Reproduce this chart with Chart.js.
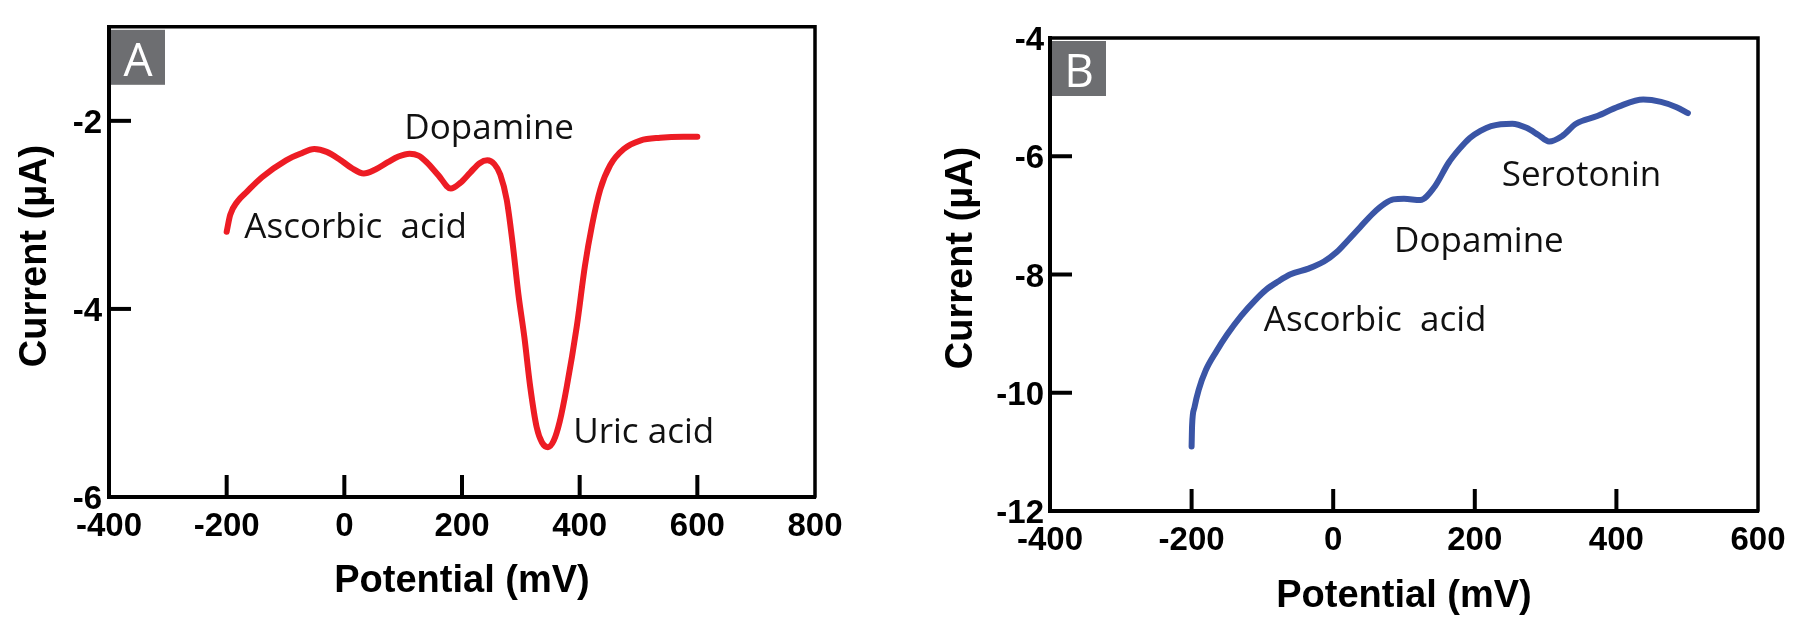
<!DOCTYPE html>
<html><head><meta charset="utf-8">
<script src="https://cdn.jsdelivr.net/npm/chart.js@4.4.1/dist/chart.umd.min.js"></script>
<style>
html,body{margin:0;padding:0;background:#fff;overflow:hidden;}
#wrap{position:relative;width:1806px;height:636px;background:#fff;}
canvas{position:absolute;top:0;}
#cA{left:0;} #cB{left:903px;}
</style></head><body>
<div id="wrap"><canvas id="cA" width="903" height="636"></canvas><canvas id="cB" width="903" height="636"></canvas></div>
<script>
// ---------- Panel A data ----------
const potentialA = [-200,-194,-182,-165,-140,-99,-75,-51,-30,-8,12,33,52,74,92,111,126,140,160,181,197,214,230,243,255,265,276,286,296,306,316,327,336,346,356,366,378,395,409,421,435,452,475,503,537,577,600];
const currentA   = [-3.18,-3.00,-2.86,-2.75,-2.60,-2.42,-2.35,-2.30,-2.33,-2.41,-2.50,-2.56,-2.52,-2.44,-2.38,-2.35,-2.37,-2.44,-2.58,-2.72,-2.66,-2.55,-2.45,-2.42,-2.46,-2.57,-2.84,-3.30,-3.85,-4.30,-4.83,-5.26,-5.42,-5.47,-5.40,-5.20,-4.83,-4.19,-3.54,-3.11,-2.73,-2.47,-2.30,-2.21,-2.18,-2.17,-2.17];
const xTicksA = [-400,-200,0,200,400,600,800];
const yTicksA = [-6,-4,-2];
const notesA  = ['Dopamine','Ascorbic  acid','Uric acid'];
const notesAx = [102,-170,389];
const notesAy = [-2.19,-3.25,-5.43];

// ---------- Panel B data ----------
const potentialB = [-200,-199.3,-196,-190,-180,-165,-150,-130,-109,-95,-78,-61,-35,-13,5,21,38,56,73,85,100,123,143,163,178,193,208,223,253,273,290,305,323,343,373,403,438,463,485,501];
const currentB   = [-10.91,-10.55,-10.25,-9.95,-9.62,-9.30,-9.02,-8.70,-8.42,-8.26,-8.12,-8.00,-7.90,-7.78,-7.62,-7.42,-7.20,-6.97,-6.80,-6.73,-6.72,-6.74,-6.52,-6.11,-5.88,-5.69,-5.57,-5.49,-5.45,-5.52,-5.64,-5.75,-5.66,-5.45,-5.32,-5.16,-5.04,-5.08,-5.17,-5.27];
const xTicksB = [-400,-200,0,200,400,600];
const yTicksB = [-12,-10,-8,-6,-4];
const notesB  = ['Serotonin','Dopamine','Ascorbic  acid'];
const notesBx = [238,86,-98];
const notesBy = [-6.50,-7.62,-8.96];

const TICK_FONT = {family:"'Liberation Sans', Arial, sans-serif", size:33, weight:'bold', lineHeight:1.2};
const TITLE_FONT = {family:"'Liberation Sans', Arial, sans-serif", size:38, weight:'bold', lineHeight:1.2};

function decor(cfg){
  return {
    id:'decor'+cfg.letter,
    afterDraw(chart){
      const ctx = chart.ctx, a = chart.chartArea;
      const xs = chart.scales.x, ys = chart.scales.y;
      ctx.save();
      ctx.strokeStyle = '#000';
      ctx.lineCap = 'round';
      // frame top and right
      ctx.lineWidth = 3.5;
      ctx.beginPath();
      ctx.moveTo(a.left, a.top); ctx.lineTo(a.right, a.top); ctx.lineTo(a.right, a.bottom);
      ctx.stroke();
      // inward ticks
      ctx.lineWidth = 4; ctx.lineCap = 'butt';
      cfg.xTicks.slice(1,-1).forEach(v=>{
        const px = xs.getPixelForValue(v);
        ctx.beginPath(); ctx.moveTo(px, a.bottom); ctx.lineTo(px, a.bottom-22); ctx.stroke();
      });
      cfg.yTicks.forEach(v=>{
        if (v===ys.min || v===ys.max) return;
        const py = ys.getPixelForValue(v);
        ctx.beginPath(); ctx.moveTo(a.left, py); ctx.lineTo(a.left+22, py); ctx.stroke();
      });
      // panel letter
      ctx.fillStyle = '#6d6e71';
      ctx.fillRect(a.left+2, a.top+3, 54, 55);
      ctx.fillStyle = '#fff';
      ctx.font = "46px 'Open Sans', sans-serif";
      ctx.textAlign = 'center'; ctx.textBaseline = 'alphabetic';
      ctx.fillText(cfg.letter, a.left+2+27, a.top+3+46);
      // annotations
      ctx.fillStyle = '#111';
      ctx.font = "35px 'Open Sans', sans-serif";
      ctx.textAlign = 'left';
      cfg.notes.forEach((t,i)=>{
        ctx.fillText(t, xs.getPixelForValue(cfg.nx[i]), ys.getPixelForValue(cfg.ny[i]));
      });
      // y title
      ctx.translate(cfg.ytx, cfg.yty);
      ctx.rotate(-Math.PI/2);
      ctx.font = "bold 38px 'Liberation Sans', Arial, sans-serif";
      ctx.textAlign = 'center'; ctx.textBaseline = 'middle';
      ctx.fillStyle = '#000';
      ctx.fillText('Current (µA)', 0, 0);
      ctx.restore();
    }
  };
}

function makeChart(id, cfg){
  return new Chart(document.getElementById(id), {
    type:'line',
    data:{ datasets:[{
      data: cfg.px.map((p,i)=>({x:p, y:cfg.py[i]})),
      borderColor: cfg.color, borderWidth: 6, pointRadius: 0,
      borderCapStyle:'round', borderJoinStyle:'round',
      cubicInterpolationMode:'monotone', fill:false
    }]},
    options:{
      responsive:false, animation:false, devicePixelRatio:1,
      layout:{padding:cfg.pad},
      plugins:{legend:{display:false}, tooltip:{enabled:false}},
      scales:{
        x:{type:'linear', min:cfg.xTicks[0], max:cfg.xTicks[cfg.xTicks.length-1],
          afterBuildTicks(s){ s.ticks = cfg.xTicks.map(v=>({value:v})); },
          afterFit(s){ s.height = cfg.xh; },
          grid:{drawOnChartArea:false, drawTicks:false},
          border:{display:true, color:'#000', width:4},
          ticks:{autoSkip:false, maxRotation:0, padding:10, color:'#000', font:TICK_FONT, callback:v=>String(v)},
          title:{display:true, text:'Potential (mV)', color:'#000', font:TITLE_FONT, padding:{top:0,bottom:cfg.xtp}}
        },
        y:{type:'linear', min:cfg.ymin, max:cfg.ymax,
          afterBuildTicks(s){ s.ticks = cfg.yTicks.map(v=>({value:v})); },
          afterFit(s){ s.width = cfg.yw; },
          grid:{drawOnChartArea:false, drawTicks:false},
          border:{display:true, color:'#000', width:4},
          ticks:{autoSkip:false, padding:cfg.ypad, labelOffset:3, color:'#000', font:TICK_FONT, callback:v=>String(v)}
        }
      }
    },
    plugins:[decor(cfg)]
  });
}

makeChart('cA', {letter:'A', px:potentialA, py:currentA, color:'#ed1c24',
  xTicks:xTicksA, yTicks:yTicksA, ymin:-6, ymax:-1,
  notes:notesA, nx:notesAx, ny:notesAy,
  pad:{left:0, top:24, right:88, bottom:0}, yw:109, xh:139, ypad:7, xtp:32, ytx:36, yty:256});

makeChart('cB', {letter:'B', px:potentialB, py:currentB, color:'#3a55a6',
  xTicks:xTicksB, yTicks:yTicksB, ymin:-12, ymax:-4,
  notes:notesB, nx:notesBx, ny:notesBy,
  pad:{left:0, top:38, right:48, bottom:0}, yw:147, xh:125, ypad:6, xtp:17, ytx:59, yty:258});
</script>
</body></html>
